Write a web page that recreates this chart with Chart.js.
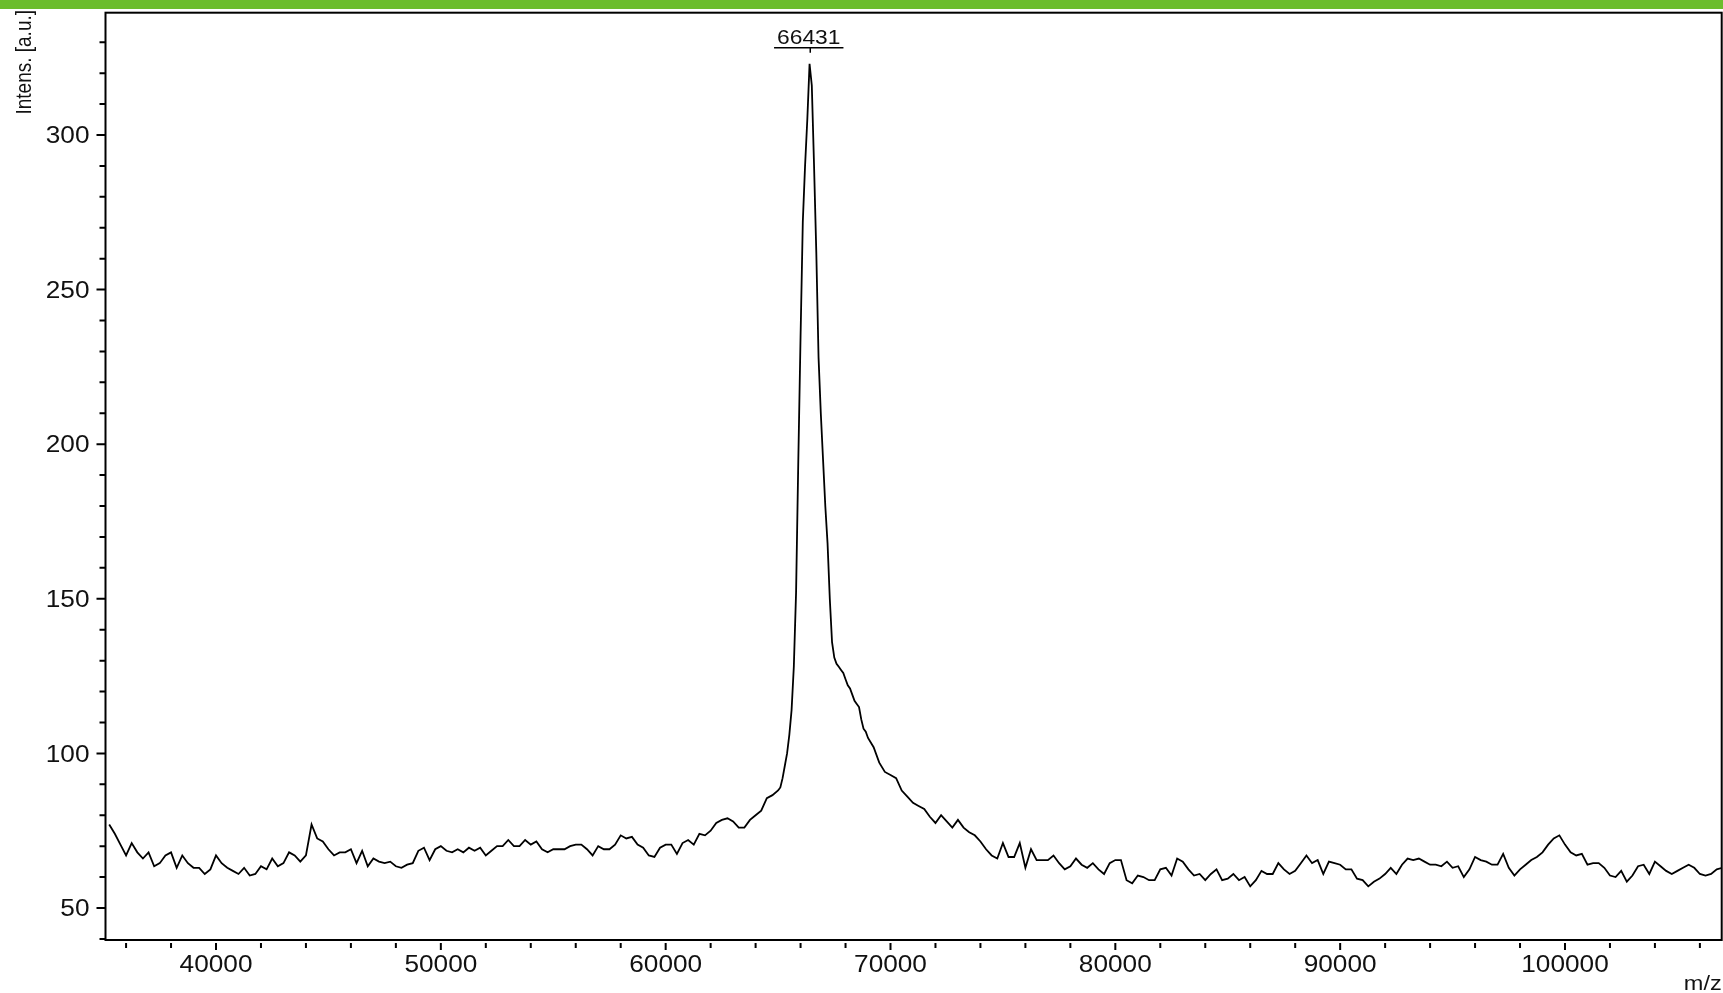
<!DOCTYPE html>
<html>
<head>
<meta charset="utf-8">
<script src="https://cdn.jsdelivr.net/npm/chart.js@4.4.1/dist/chart.umd.min.js"></script>
<style>
  html, body { margin: 0; padding: 0; background: #fff; }
  #wrap { position: absolute; left: 0; top: 0; width: 1723px; height: 993px; }
  #topBar { position: absolute; left: 0; top: 0; width: 1723px; height: 9px; background: #6bbd2c; }
</style>
</head>
<body>
<div id="wrap"><canvas id="spectrum"></canvas></div>
<div id="topBar"></div>
<script>
// ===== Spectrum values =====

// left baseline: every 250 m/z, 35250 .. 65000
const mzStartA = 35250;
const mzStepA = 250;
const intensA = [
  77, 74, 70.5, 67, 71, 68, 66, 68,            // 35250
  63.5, 64.5, 67, 68, 63, 67, 64.5, 63,        // 37250
  63, 61, 62.5, 67, 64.5, 63, 62, 61,          // 39250
  63, 60.5, 61, 63.5, 62.5, 66, 63.5, 64.5,    // 41250
  68, 67, 65, 67, 77, 72.5, 71.5, 69,          // 43250
  67, 68, 68, 69, 64.5, 68.5, 63.5, 66,        // 45250
  65, 64.5, 65, 63.5, 63, 64, 64.5, 68.5,      // 47250
  69.5, 65.5, 69, 70, 68.5, 68, 69, 68,        // 49250
  69.5, 68.5, 69.5, 67, 68.5, 70, 70, 72,      // 51250
  70, 70, 72, 70.5, 71.5, 69, 68, 69,          // 53250
  69, 69, 70, 70.5, 70.5, 69, 67, 70,          // 55250
  69, 69, 70.5, 73.5, 72.5, 73, 70.5, 69.5,    // 57250
  67, 66.5, 69.5, 70.5, 70.5, 67.5, 71, 72,    // 59250
  70.5, 74, 73.5, 75, 77.5, 78.5, 79, 78,      // 61250
  76, 76, 78.5, 80, 81.5, 85.5, 86.5, 88       // 63250
];

// peak: every 100 m/z, 65100 .. 69000
const mzStartB = 65100;
const mzStepB = 100;
const intensB = [
  89, 92, 96, 100, 106, 114, 128, 152, 195, 235,        // 65100
  272, 290, 305, 323, 316, 290, 262, 228, 210, 195,     // 66100
  180, 168, 150, 136, 131, 129, 128, 127, 126, 124,     // 67100
  122, 121, 119, 117, 116, 115, 111, 108, 107, 105      // 68100
];

// right baseline: every 250 m/z, 69250 .. 107000
const mzStartC = 69250;
const mzStepC = 250;
const intensC = [
  102, 97, 94, 93, 92, 88, 86, 84,             // 69250
  83, 82, 79.5, 77.5, 80, 78, 76, 78.5,        // 71250
  76, 74.5, 73.5, 71.5, 69, 67, 66, 71,        // 73250
  66.5, 66.5, 71, 63, 69, 65.5, 65.5, 65.5,    // 75250
  67, 64.5, 62.5, 63.5, 66, 64, 63, 64.5,      // 77250
  62.5, 61, 64.5, 65.5, 65.5, 59, 58, 60.5,    // 79250
  60, 59, 59, 62.5, 63, 60.5, 66, 65,          // 81250
  62.5, 60.5, 61, 59, 61, 62.5, 59, 59.5,      // 83250
  61, 59, 60, 57, 59, 62, 61, 61,              // 85250
  64.5, 62.5, 61, 62, 64.5, 67, 64.5, 65.5,    // 87250
  61, 65, 64.5, 64, 62.5, 62.5, 59.5, 59,      // 89250
  57, 58.5, 59.5, 61, 63, 61, 64, 66,          // 91250
  65.5, 66, 65, 64, 64, 63.5, 65, 63,          // 93250
  63.5, 60, 62.5, 66.5, 65.5, 65, 64, 64,      // 95250
  67.5, 63, 60.5, 62.5, 64, 65.5, 66.5, 68,    // 97250
  70.5, 72.5, 73.5, 70.5, 68, 67, 67.5, 64,    // 99250
  64.5, 64.5, 63, 60.5, 60, 62, 58.5, 60.5,    // 101250
  63.5, 64, 61, 65, 63.5, 62, 61, 62,          // 103250
  63, 64, 63, 61, 60.5, 61, 62.5, 63           // 105250
];

const xTickLabels = [40000, 50000, 60000, 70000, 80000, 90000, 100000];
const yTickLabels = [50, 100, 150, 200, 250, 300];
const peakMz = 66431;

const X_MIN = 35085;
const X_MAX = 106970;
const Y_MIN = 39.65;
const Y_MAX = 339.55;

const FONT = "'Liberation Sans', Arial, Helvetica, sans-serif";
const INK = '#111';
const STRETCH = 1.14;   // the original lettering is a little wide

function toPoints(start, step, values) {
  return values.map((v, i) => ({ x: start + i * step, y: v }));
}

const spectrum = [].concat(
  toPoints(mzStartA, mzStepA, intensA),
  toPoints(mzStartB, mzStepB, intensB),
  toPoints(mzStartC, mzStepC, intensC)
);

function wideText(ctx, text, x, y, size, align, stretch) {
  ctx.save();
  ctx.translate(x, y);
  ctx.scale(stretch, 1);
  ctx.font = `${size}px ${FONT}`;
  ctx.textAlign = align;
  ctx.textBaseline = 'alphabetic';
  ctx.fillText(text, 0, 0);
  ctx.restore();
}

// frame, tick marks, tick labels, axis titles and peak label
const spectrumDecor = {
  id: 'spectrumDecor',
  afterDraw(chart) {
    const { ctx, chartArea: a, scales: { x, y } } = chart;
    ctx.save();
    ctx.strokeStyle = '#000';
    ctx.fillStyle = INK;
    ctx.lineWidth = 2;
    ctx.strokeRect(a.left, a.top, a.right - a.left, a.bottom - a.top);

    ctx.beginPath();
    for (let v = 40; v <= 340; v += 10) {
      const py = y.getPixelForValue(v);
      if (py < a.top - 1 || py > a.bottom + 1) continue;
      const len = v % 50 === 0 ? 9 : 6;
      ctx.moveTo(a.left - len, py);
      ctx.lineTo(a.left, py);
    }
    for (let m = 36000; m <= 106000; m += 2000) {
      const px = x.getPixelForValue(m);
      const len = m % 10000 === 0 ? 10 : 8;
      ctx.moveTo(px, a.bottom + 3);
      ctx.lineTo(px, a.bottom + len);
    }
    ctx.stroke();

    yTickLabels.forEach((v) => {
      wideText(ctx, String(v), a.left - 16, y.getPixelForValue(v) + 8.2, 23, 'right', STRETCH);
    });
    xTickLabels.forEach((m) => {
      wideText(ctx, String(m), x.getPixelForValue(m), a.bottom + 32, 23, 'center', STRETCH);
    });

    // y title, reading upwards from the top-left corner
    ctx.save();
    ctx.translate(31, 10);
    ctx.scale(1.2, 1);
    ctx.rotate(-Math.PI / 2);
    ctx.font = `19px ${FONT}`;
    ctx.textAlign = 'right';
    ctx.textBaseline = 'alphabetic';
    ctx.fillText('Intens. [a.u.]', 0, 0);
    ctx.restore();

    // x title
    wideText(ctx, 'm/z', a.right, 990, 21, 'right', 1.12);

    // peak label
    const peakX = x.getPixelForValue(peakMz);
    const peakTop = y.getPixelForValue(Math.max(...intensB));
    const label = String(peakMz);
    ctx.font = `20px ${FONT}`;
    const w = ctx.measureText(label).width * STRETCH;
    wideText(ctx, label, peakX - 1.5, peakTop - 20, 20, 'center', STRETCH);
    ctx.lineWidth = 1.5;
    ctx.beginPath();
    ctx.moveTo(peakX - 1.5 - w / 2 - 3, peakTop - 16);
    ctx.lineTo(peakX - 1.5 + w / 2 + 3, peakTop - 16);
    ctx.moveTo(peakX, peakTop - 16);
    ctx.lineTo(peakX, peakTop - 11);
    ctx.stroke();
    ctx.restore();
  }
};

new Chart(document.getElementById('spectrum'), {
  type: 'line',
  data: {
    datasets: [{
      data: spectrum,
      borderColor: '#000',
      borderWidth: 1.8,
      pointRadius: 0,
      tension: 0,
      fill: false
    }]
  },
  options: {
    responsive: true,
    maintainAspectRatio: false,
    animation: false,
    layout: { padding: { top: 12.7, right: 1.3, left: 0, bottom: 0 } },
    plugins: {
      legend: { display: false },
      tooltip: { enabled: false }
    },
    scales: {
      x: {
        type: 'linear',
        min: X_MIN,
        max: X_MAX,
        grid: { display: false, drawTicks: false },
        border: { display: false },
        ticks: { display: false },
        afterFit: (s) => { s.height = 53; }
      },
      y: {
        type: 'linear',
        min: Y_MIN,
        max: Y_MAX,
        grid: { display: false, drawTicks: false },
        border: { display: false },
        ticks: { display: false },
        afterFit: (s) => { s.width = 105.5; }
      }
    }
  },
  plugins: [spectrumDecor]
});
</script>
</body>
</html>
